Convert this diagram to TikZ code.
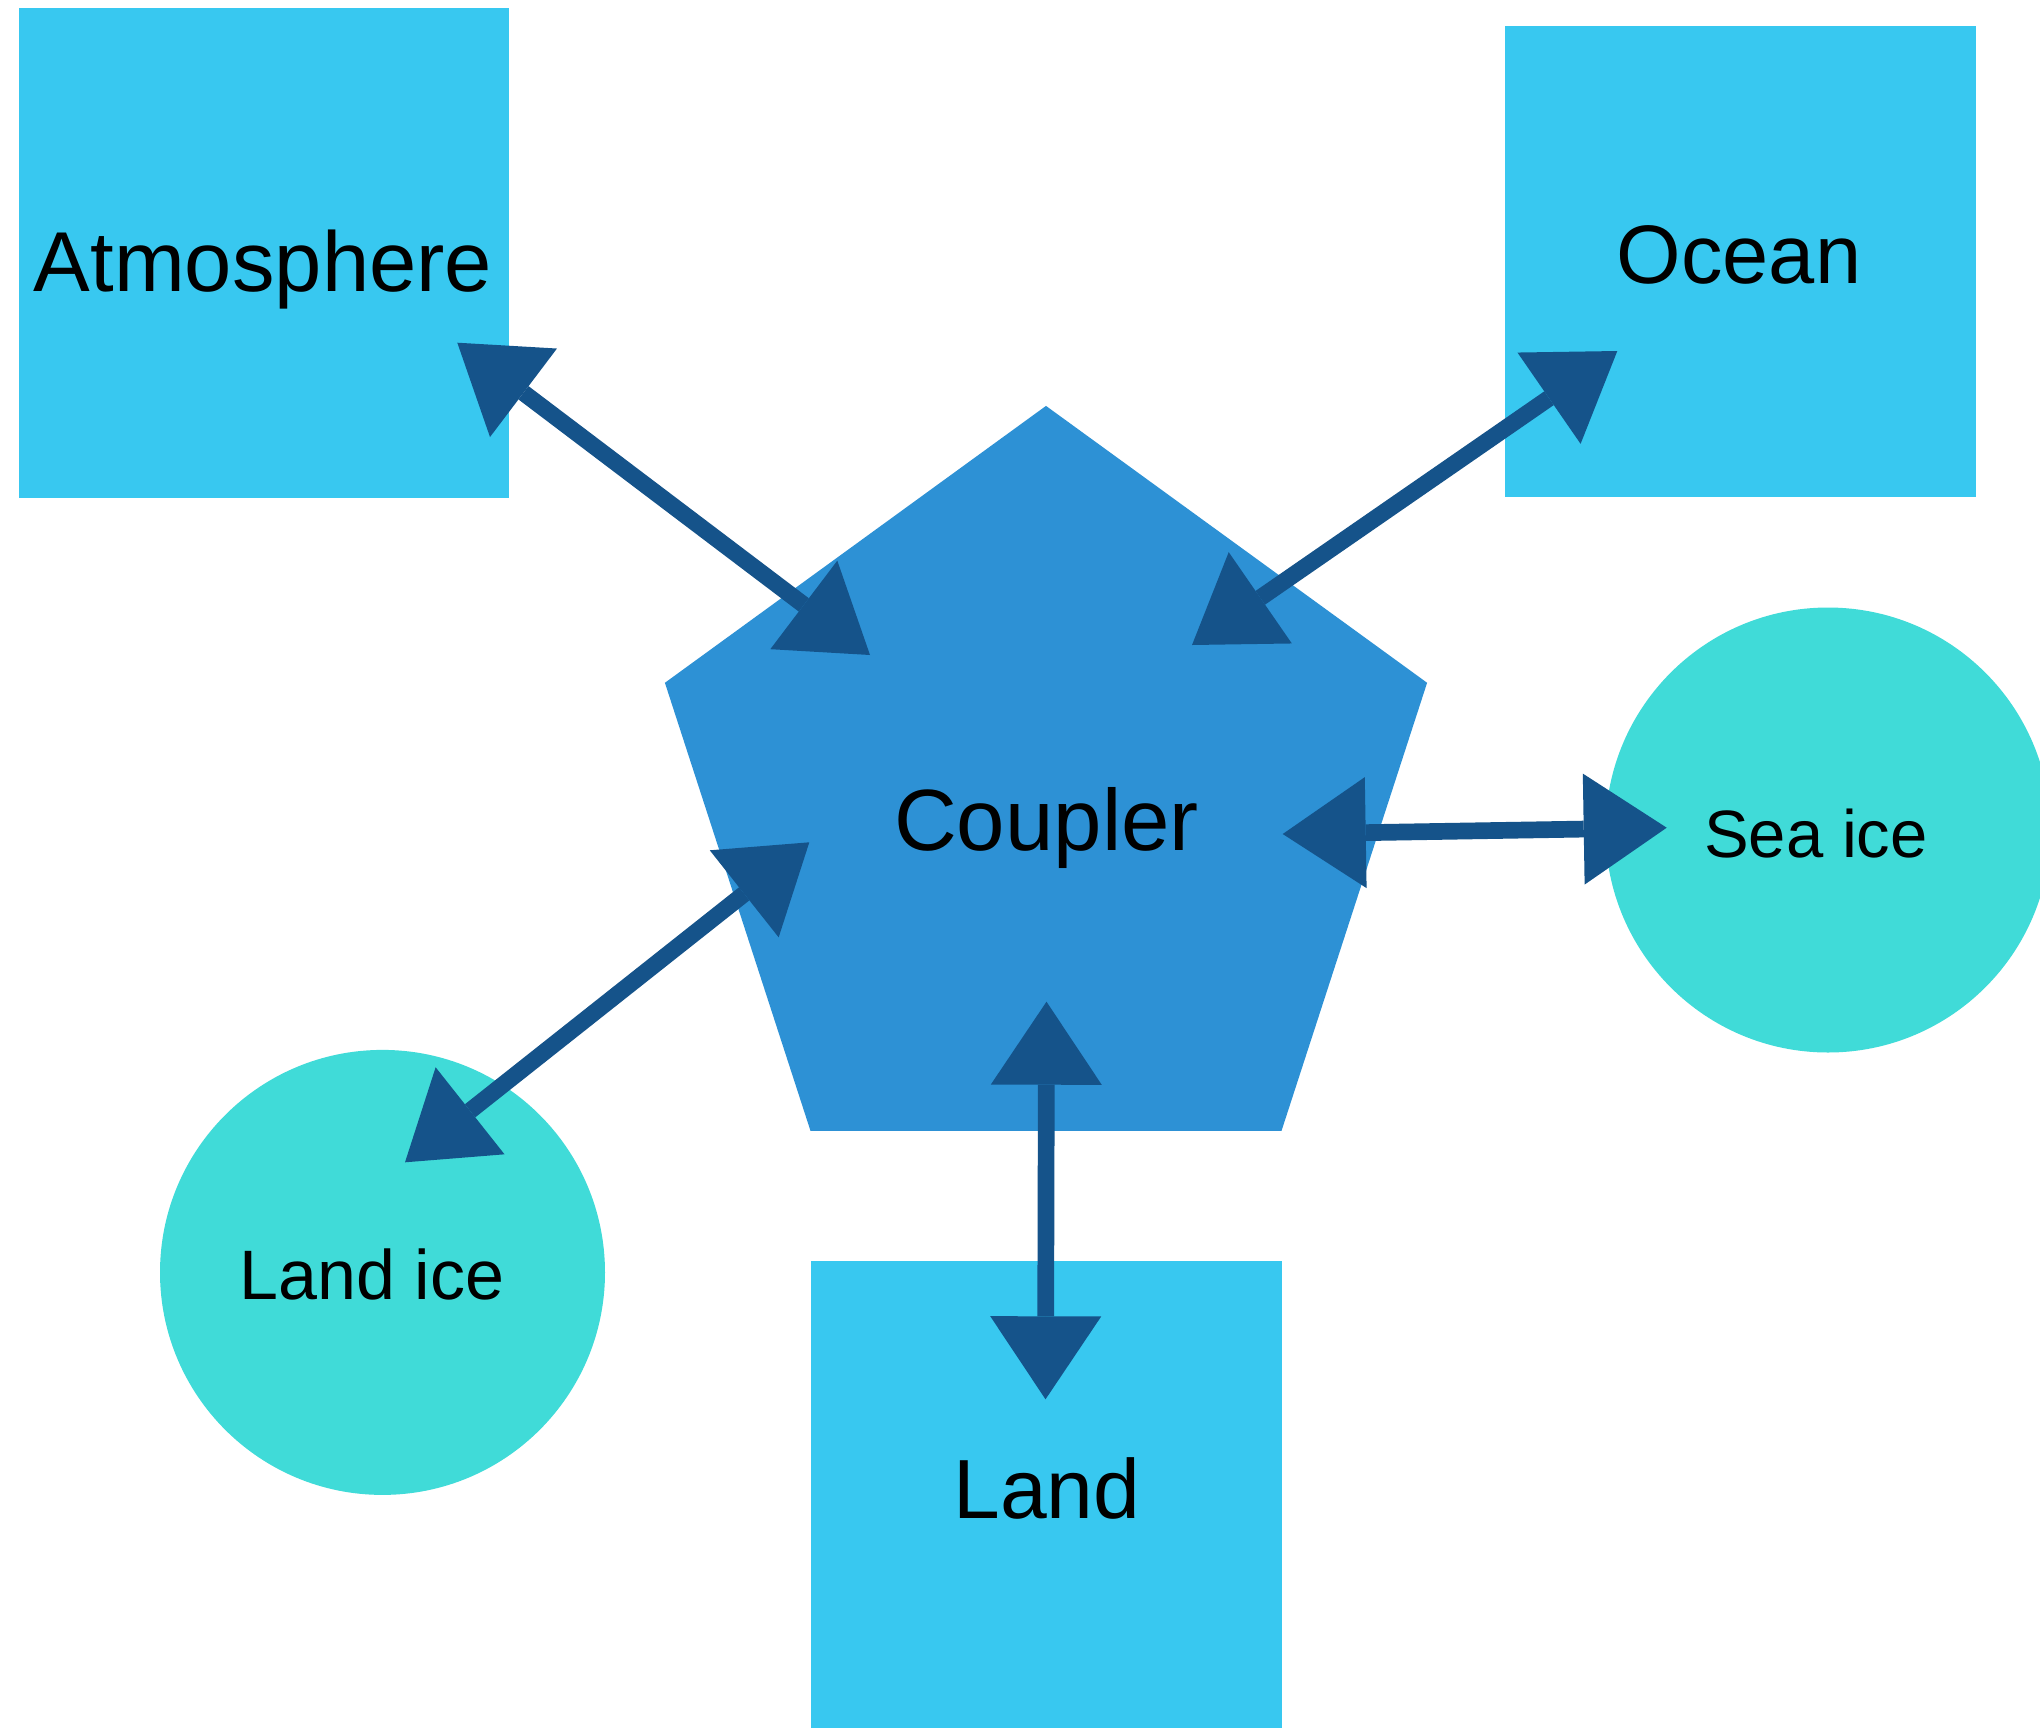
\documentclass[tikz,border=0pt]{standalone}
\usepackage{fontspec}
\setmainfont{Liberation Sans}
\usetikzlibrary{shapes.geometric,arrows.meta}
\definecolor{boxblue}{RGB}{56,200,240}
\definecolor{pentblue}{RGB}{45,145,213}
\definecolor{icecyan}{RGB}{64,219,216}
\definecolor{arrowblue}{RGB}{21,83,138}
\tikzset{
  compbox/.style={rectangle, fill=boxblue, draw=none, inner sep=0pt, outer sep=0pt},
  icecirc/.style={circle, fill=icecyan, draw=none, inner sep=0pt, outer sep=0pt, minimum size=445pt},
  couplerpent/.style={regular polygon, regular polygon sides=5, fill=pentblue, draw=none, inner sep=0pt, outer sep=0pt, minimum size=801.4pt},
  lbl/.style={anchor=base, inner sep=0pt, text=black},
  bigtip/.tip={Triangle[length=83pt 0 0, width=111pt 0 0, line width=0pt 0 0]},
  link/.style={draw=arrowblue, fill=arrowblue, line width=16.7pt, {bigtip}-{bigtip}}
}
\begin{document}
\begin{tikzpicture}[x=1pt,y=-1pt]
\clip (0,0) rectangle (2040,1727);
\fill[white] (0,0) rectangle (2040,1727);

% shapes
\node[compbox, minimum width=490pt, minimum height=490pt] (atm) at (264,252.5) {};
\node[compbox, minimum width=471pt, minimum height=471pt] (ocn) at (1740.5,261.5) {};
\node[compbox, minimum width=471pt, minimum height=471pt] (lnd) at (1046,1496.2) {};
\node[icecirc] (sice) at (1828,830) {};
\node[icecirc] (lice) at (382.5,1272.4) {};
\node[couplerpent] (cpl) at (1046,806.6) {};

% labels
\node[lbl, font=\fontsize{85}{100}\selectfont] (atmlbl) at (263,291.7) {Atmosphere};
\node[lbl, font=\fontsize{83}{98}\selectfont] (ocnlbl) at (1739,283) {Ocean};
\node[lbl, font=\fontsize{87}{100}\selectfont] (cpllbl) at (1046.5,850) {Coupler};
\node[lbl, font=\fontsize{67}{80}\selectfont] (sicelbl) at (1816,857) {Sea ice};
\node[lbl, font=\fontsize{70}{84}\selectfont] (licelbl) at (372,1299) {Land ice};
\node[lbl, font=\fontsize{84}{98}\selectfont] (lndlbl) at (1047,1518) {Land};

% connector end points
\coordinate (atm-end) at (457.3,342.7);
\coordinate (cpl-atm) at (870,655);
\coordinate (ocn-end) at (1617.3,351);
\coordinate (cpl-ocn) at (1192,645);
\coordinate (sice-end) at (1666.7,827.7);
\coordinate (cpl-sice) at (1282.7,834);
\coordinate (lnd-end) at (1045.5,1399.3);
\coordinate (cpl-lnd) at (1046.5,1001.7);
\coordinate (lice-end) at (405,1162.3);
\coordinate (cpl-lice) at (809.3,842.3);

% connectors
\draw[link] (atm-end) -- (cpl-atm);
\draw[link] (cpl-ocn) -- (ocn-end);
\draw[link] (cpl-sice) -- (sice-end);
\draw[link] (cpl-lnd) -- (lnd-end);
\draw[link] (lice-end) -- (cpl-lice);
\end{tikzpicture}
\end{document}
